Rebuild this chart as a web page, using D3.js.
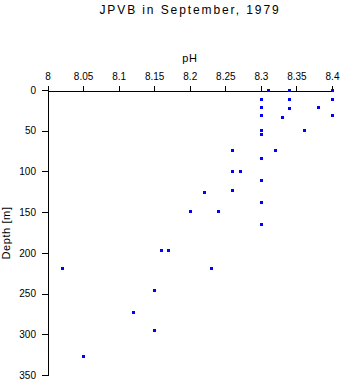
<!DOCTYPE html>
<html>
<head>
<meta charset="utf-8">
<script src="https://cdn.jsdelivr.net/npm/d3@7"></script>
<style>
  body { margin: 0; background: #fff; }
  svg { display: block; font-family: "Liberation Sans", Arial, sans-serif; }
</style>
</head>
<body>
<div id="chart"></div>
<script>
// pH readings and sample depths
var pH = [8.31, 8.34, 8.40,
          8.30, 8.34, 8.40,
          8.30, 8.34, 8.38,
          8.30, 8.33, 8.40,
          8.30, 8.36, 8.30,
          8.26, 8.32, 8.30,
          8.26, 8.27, 8.30,
          8.22, 8.26, 8.30,
          8.20, 8.24, 8.30,
          8.16, 8.17,
          8.02, 8.23,
          8.15, 8.12, 8.15, 8.05];
var depth = [0, 0, 0,
             11, 11, 11,
             21, 22, 21,
             31, 33, 31,
             49, 49, 54,
             74, 74, 83,
             99, 99, 110,
             125, 123, 138,
             149, 149, 164,
             197, 197,
             218, 218,
             246, 273, 295, 327];
var pHTicks = [8, 8.05, 8.1, 8.15, 8.2, 8.25, 8.3, 8.35, 8.4];
var depthTicks = [0, 50, 100, 150, 200, 250, 300, 350];

var width = 343, height = 384;

var svg = d3.select('#chart').append('svg')
    .attr('width', width)
    .attr('height', height);

var x = d3.scaleLinear().domain([8, 8.4]).range([47.5, 332]);
var y = d3.scaleLinear().domain([0, 350]).range([90, 375]);

// title
svg.append('text')
    .attr('x', 190).attr('y', 14)
    .attr('text-anchor', 'middle')
    .attr('font-size', '12px')
    .attr('letter-spacing', '1.9px')
    .text('JPVB in September, 1979');

// top axis (pH)
var xAxis = svg.append('g')
    .attr('transform', 'translate(0,90.5)')
    .call(d3.axisTop(x).tickValues(pHTicks).tickFormat(String).tickSize(5).tickSizeOuter(0).tickPadding(6));

svg.append('text')
    .attr('x', 190).attr('y', 62)
    .attr('text-anchor', 'middle')
    .attr('font-size', '11px')
    .attr('letter-spacing', '0.8px')
    .text('pH');

// left axis (depth)
var yAxis = svg.append('g')
    .attr('transform', 'translate(48,0)')
    .call(d3.axisLeft(y).tickValues(depthTicks).tickSize(6).tickSizeOuter(0).tickPadding(6));

svg.append('text')
    .attr('transform', 'translate(10,233) rotate(-90)')
    .attr('text-anchor', 'middle')
    .attr('font-size', '11px')
    .attr('letter-spacing', '0.6px')
    .text('Depth [m]');

svg.selectAll('.tick text')
    .attr('font-size', '10px')
    .attr('font-family', '"Liberation Sans", Arial, sans-serif')
    .attr('fill', '#000');
svg.selectAll('.domain, .tick line')
    .attr('stroke', '#000')
    .attr('shape-rendering', 'crispEdges');

// points
svg.selectAll('rect.pt')
    .data(d3.range(pH.length)).enter().append('rect')
    .attr('class', 'pt')
    .attr('x', function (i) { return Math.round(x(pH[i])) - 1.5; })
    .attr('y', function (i) { return Math.round(y(depth[i])) - 1.5; })
    .attr('width', 3)
    .attr('height', 3)
    .attr('shape-rendering', 'crispEdges')
    .style('fill', '#0000ff');
</script>
</body>
</html>
